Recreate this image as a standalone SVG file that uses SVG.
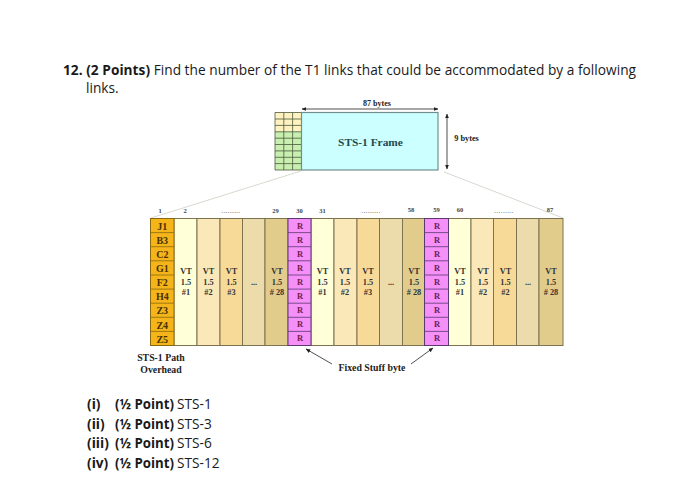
<svg xmlns="http://www.w3.org/2000/svg" width="700" height="479" viewBox="0 0 700 479">
<style>
.q{font:13.7px "Open Sans",sans-serif;fill:#1a1a1a}
.b{font-weight:700}
.s{font-family:"Liberation Serif",serif;font-weight:700;fill:#222}
.n{font-size:6.500px;text-anchor:middle;fill:#444}
.d{font-size:7px;text-anchor:middle;fill:#777;letter-spacing:.4px}
.r{font-size:8.500px;text-anchor:middle;fill:#702050}
.p{font-size:10px;text-anchor:middle;fill:#4a3000}
.v{font-size:8.300px;text-anchor:middle;fill:#333}
.c{stroke:#7d7350;stroke-width:1}
.g{stroke:#4a5a3a;stroke-width:.8;fill:none}
.l{stroke:#222;stroke-width:.8;fill:none}
.fan{stroke:#d8d8d0;stroke-width:1;fill:none}
</style>
<defs>
<marker id="ah" viewBox="0 0 6 6" refX="5.500" refY="3" markerWidth="6" markerHeight="6" orient="auto-start-reverse"><path d="M0 .5L6 3L0 5.500z" fill="#222"/></marker>
</defs>
<rect width="700" height="479" fill="#fff"/>
<g id="question">
<text class="q" x="63" y="75" textLength="573"><tspan class="b">12. (2 Points)</tspan> Find the number of the T1 links that could be accommodated by a following</text>
<text class="q" x="86" y="93">links.</text>
</g>
<g id="frame">
<rect x="275" y="112.500" width="26.500" height="19" fill="#fff2c0"/>
<rect x="275" y="131.500" width="26.500" height="38.500" fill="#c8eeb0"/>
<path class="g" d="M275 112.500H301.500M275 119H301.500M275 125.400H301.500M275 131.800H301.500M275 138.200H301.500M275 144.500H301.500M275 150.900H301.500M275 157.300H301.500M275 163.600H301.500M275 170H301.500M275 112.500V170M283.800 112.500V170M292.600 112.500V170"/>
<rect x="301.500" y="112.500" width="136.500" height="57.500" fill="#ccffff" stroke="#6f8f8f" stroke-width="1.200"/>
<text class="s" x="370.500" y="146" font-size="11.400" text-anchor="middle" style="fill:#1f4a50">STS-1 Frame</text>
<text class="s" x="377" y="106" font-size="8" text-anchor="middle">87 bytes</text>
<text class="s" x="466.500" y="141" font-size="8.300" text-anchor="middle">9 bytes</text>
</g>
<g id="connectors">
<path class="l" marker-start="url(#ah)" marker-end="url(#ah)" d="M302 109H438"/>
<path class="l" marker-start="url(#ah)" marker-end="url(#ah)" d="M447 114V169"/>
<path class="fan" d="M301 171L151 218M444 172L563 218"/>
<path class="l" marker-end="url(#ah)" d="M332 364L306 349"/>
<path class="l" marker-end="url(#ah)" d="M411 364L433 348"/>
</g>
<g id="columns">
<rect class="c" x="174" y="218.500" width="23" height="127" fill="#ffffd8"/>
<rect class="c" x="197" y="218.500" width="23" height="127" fill="#fbe8b8"/>
<rect class="c" x="220" y="218.500" width="22.500" height="127" fill="#f8da98"/>
<rect class="c" x="242.500" y="218.500" width="22.500" height="127" fill="#ecdcac"/>
<rect class="c" x="265" y="218.500" width="23" height="127" fill="#e2cc8c"/>
<rect class="c" x="311" y="218.500" width="23" height="127" fill="#ffffd8"/>
<rect class="c" x="334" y="218.500" width="23" height="127" fill="#fbe8b8"/>
<rect class="c" x="357" y="218.500" width="22.500" height="127" fill="#f8da98"/>
<rect class="c" x="379.500" y="218.500" width="23" height="127" fill="#ecdcac"/>
<rect class="c" x="402.500" y="218.500" width="22" height="127" fill="#e2cc8c"/>
<rect class="c" x="448.500" y="218.500" width="22.500" height="127" fill="#ffffd8"/>
<rect class="c" x="471" y="218.500" width="22.500" height="127" fill="#fbe8b8"/>
<rect class="c" x="493.500" y="218.500" width="23" height="127" fill="#f8da98"/>
<rect class="c" x="516.500" y="218.500" width="22.500" height="127" fill="#ecdcac"/>
<rect class="c" x="539" y="218.500" width="24" height="127" fill="#e2cc8c"/>
</g>
<g id="path-overhead">
<rect x="150.500" y="218.500" width="23.500" height="127" fill="#f5b419" stroke="#8a6a10"/>
<path d="M150.500 232.600H174M150.500 246.700H174M150.500 260.800H174M150.500 275H174M150.500 289.100H174M150.500 303.200H174M150.500 317.300H174M150.500 331.400H174" stroke="#8a6a10" stroke-width=".8"/>
<g class="s p">
<text x="162.300" y="229.500">J1</text><text x="162.300" y="243.500">B3</text><text x="162.300" y="257.500">C2</text><text x="162.300" y="272">G1</text><text x="162.300" y="286">F2</text><text x="162.300" y="300">H4</text><text x="162.300" y="314">Z3</text><text x="162.300" y="328.500">Z4</text><text x="162.300" y="342.500">Z5</text>
</g>
</g>
<g id="stuff-30">
<rect x="288" y="218.500" width="23" height="127" fill="#f490f8" stroke="#5a3a70"/>
<path d="M288 232.600H311M288 246.700H311M288 260.800H311M288 275H311M288 289.100H311M288 303.200H311M288 317.300H311M288 331.400H311" stroke="#5a3a70" stroke-width=".8"/>
<g class="s r">
<text x="300" y="229">R</text><text x="300" y="243">R</text><text x="300" y="256.500">R</text><text x="300" y="270.500">R</text><text x="300" y="284.500">R</text><text x="300" y="299">R</text><text x="300" y="312.500">R</text><text x="300" y="326.500">R</text><text x="300" y="341">R</text>
</g>
</g>
<g id="stuff-59">
<rect x="424.500" y="218.500" width="24" height="127" fill="#f490f8" stroke="#5a3a70"/>
<path d="M424.500 232.600H448.500M424.500 246.700H448.500M424.500 260.800H448.500M424.500 275H448.500M424.500 289.100H448.500M424.500 303.200H448.500M424.500 317.300H448.500M424.500 331.400H448.500" stroke="#5a3a70" stroke-width=".8"/>
<g class="s r">
<text x="437" y="229">R</text><text x="437" y="243">R</text><text x="437" y="256.500">R</text><text x="437" y="270.500">R</text><text x="437" y="284.500">R</text><text x="437" y="299">R</text><text x="437" y="312.500">R</text><text x="437" y="326.500">R</text><text x="437" y="341">R</text>
</g>
</g>
<g id="column-numbers" class="s n">
<text x="160" y="213">1</text><text x="185" y="213">2</text><text x="275.500" y="213">29</text><text x="299.500" y="213">30</text><text x="322.500" y="213">31</text><text x="411" y="212">58</text><text x="436.500" y="212">59</text><text x="460" y="212">60</text><text x="550" y="212">87</text>
<text class="d" x="231" y="212.500">.........</text><text class="d" x="371" y="212.500">.........</text><text class="d" x="504" y="212.500">.........</text>
</g>
<g id="vt-labels" class="s v">
<text x="186" y="274">VT</text><text x="186" y="285">1.5</text><text x="186" y="295">#1</text>
<text x="208.500" y="274">VT</text><text x="208.500" y="285">1.5</text><text x="208.500" y="295">#2</text>
<text x="231.500" y="274">VT</text><text x="231.500" y="285">1.5</text><text x="231.500" y="295">#3</text>
<text x="254" y="285">...</text>
<text x="277" y="274">VT</text><text x="277" y="285">1.5</text><text x="277" y="295"># 28</text>
<text x="322.500" y="274">VT</text><text x="322.500" y="285">1.5</text><text x="322.500" y="295">#1</text>
<text x="345" y="274">VT</text><text x="345" y="285">1.5</text><text x="345" y="295">#2</text>
<text x="368" y="274">VT</text><text x="368" y="285">1.5</text><text x="368" y="295">#3</text>
<text x="391" y="285">...</text>
<text x="414" y="274">VT</text><text x="414" y="285">1.5</text><text x="414" y="295"># 28</text>
<text x="460" y="274">VT</text><text x="460" y="285">1.5</text><text x="460" y="295">#1</text>
<text x="483" y="274">VT</text><text x="483" y="285">1.5</text><text x="483" y="295">#2</text>
<text x="505.500" y="274">VT</text><text x="505.500" y="285">1.5</text><text x="505.500" y="295">#2</text>
<text x="528" y="285">...</text>
<text x="551" y="274">VT</text><text x="551" y="285">1.5</text><text x="551" y="295"># 28</text>
</g>
<g id="captions" class="s" font-size="9.800" text-anchor="middle">
<text x="161" y="361">STS-1 Path</text>
<text x="161" y="373">Overhead</text>
<text x="372" y="371">Fixed Stuff byte</text>
</g>
<g id="parts">
<text class="q b" x="87" y="409">(i)</text><text class="q b" x="115" y="409" textLength="59" lengthAdjust="spacingAndGlyphs">(½ Point)</text><text class="q" x="177" y="409">STS-1</text>
<text class="q b" x="87" y="428.500">(ii)</text><text class="q b" x="115" y="428.500" textLength="59" lengthAdjust="spacingAndGlyphs">(½ Point)</text><text class="q" x="177" y="428.500">STS-3</text>
<text class="q b" x="87" y="448">(iii)</text><text class="q b" x="115" y="448" textLength="59" lengthAdjust="spacingAndGlyphs">(½ Point)</text><text class="q" x="177" y="448">STS-6</text>
<text class="q b" x="87" y="467.500">(iv)</text><text class="q b" x="115" y="467.500" textLength="59" lengthAdjust="spacingAndGlyphs">(½ Point)</text><text class="q" x="177" y="467.500">STS-12</text>
</g>
</svg>
